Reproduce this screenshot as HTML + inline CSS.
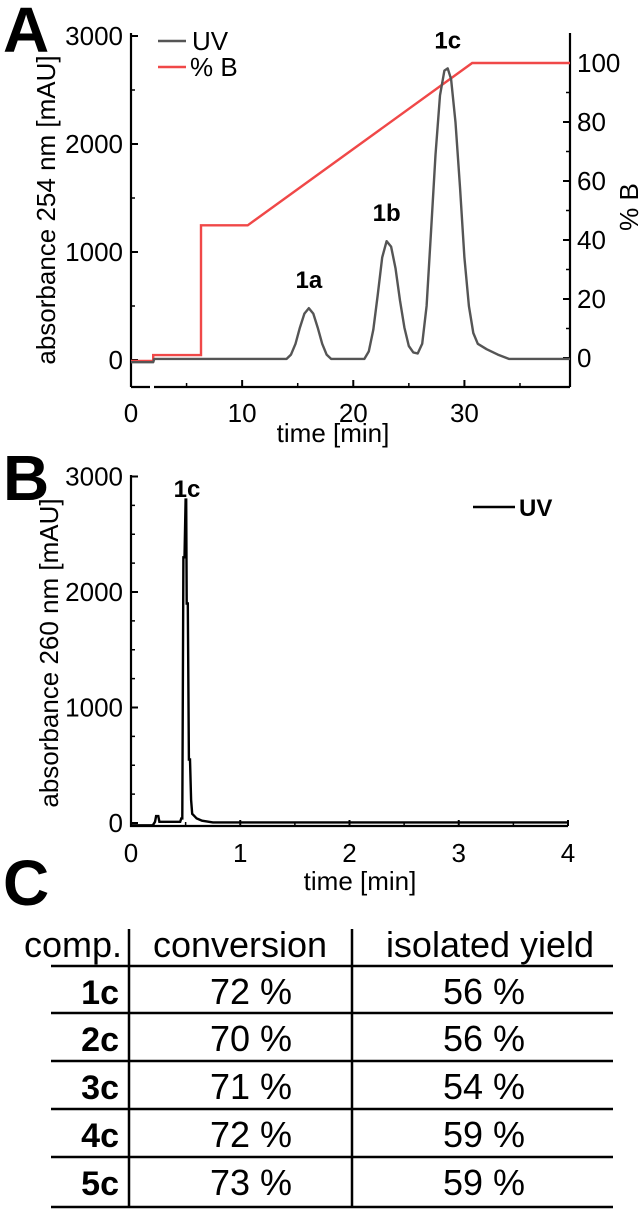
<!DOCTYPE html>
<html><head><meta charset="utf-8"><style>
body{margin:0;background:#fff;}
svg{display:block;font-family:"Liberation Sans",Arial,sans-serif;}
</style></head><body>
<svg id="fig" width="641" height="1212" viewBox="0 0 641 1212">
<g id="gA"></g>
<g id="gB"></g>
<g id="gC"></g>
</svg>
<script>
// Panel A data
const aUvTimes=[0,2,2.1,14,14.4,14.8,15.2,15.6,16,16.4,16.8,17.2,17.6,18,21,21.4,21.8,22.2,22.6,23,23.4,23.8,24.2,24.6,25,25.4,25.8,26.2,26.6,27,27.4,27.8,28.2,28.5,28.8,29.2,29.6,30,30.4,30.8,31.2,32,33,34,39.5];
const aUvValues=[-20,-20,10,10,50,150,300,430,480,430,300,150,50,10,10,80,280,600,950,1100,1050,850,550,300,130,70,60,150,500,1200,1900,2450,2680,2700,2600,2200,1600,950,500,250,150,100,50,10,10];
const aBTimes=[0,2,2,6.3,6.3,10.5,30.7,39.5];
const aBValues=[-1,-1,1,1,45,45,100,100];
const aXTicks=[0,10,20,30];
const aYTicks=[0,1000,2000,3000];
const aY2Ticks=[0,20,40,60,80,100];
const aPeakLabels=["1a","1b","1c"];
const aPeakTimes=[16,23,28.5];
const aPeakValues=[480,1100,2700];
// Panel B data
const bTimes=[0,0.2,0.22,0.23,0.25,0.26,0.45,0.46,0.47,0.48,0.49,0.5,0.505,0.51,0.52,0.53,0.54,0.55,0.56,0.58,0.6,0.65,0.75,4];
const bValues=[-20,-20,10,60,60,10,10,40,40,2300,2300,2800,2800,1900,1900,550,550,200,80,60,40,20,5,5];
const bXTicks=[0,1,2,3,4];
const bYTicks=[0,1000,2000,3000];
// Panel C data
const cRows=["1c","2c","3c","4c","5c"];
const cConversion=["72 %","70 %","71 %","72 %","73 %"];
const cYield=["56 %","56 %","54 %","59 %","59 %"];

const NS="http://www.w3.org/2000/svg";
function mk(parent,tag,attrs,text){const e=document.createElementNS(NS,tag);for(const k in attrs)e.setAttribute(k,attrs[k]);if(text!==undefined)e.textContent=text;parent.appendChild(e);return e;}

// ---------- Panel A ----------
const gA=document.getElementById('gA');
const axA=t=>131+t*(570-131)/39.5;
const ayA=v=>360-v*0.108;
const ay2A=v=>358-v*2.95;
let t;
t=mk(gA,'text',{x:3,y:52,'font-size':64,'font-weight':'bold'},'A');


let ax=mk(gA,'path',{d:`M131,${ayA(3000)-3}V387M131,387H150M154,387H570M570,387V33`,stroke:'#000','stroke-width':2.2,fill:'none'});


aXTicks.forEach(v=>{
 const x=axA(v);
 mk(gA,'line',{x1:x,y1:387,x2:x,y2:380,stroke:'#000','stroke-width':2});
 const l=mk(gA,'text',{x:x,y:422,'font-size':26,'text-anchor':'middle'},v);
 
 
});
[5,15,25,35].forEach(v=>mk(gA,'line',{x1:axA(v),y1:387,x2:axA(v),y2:383,stroke:'#000','stroke-width':1.5}));
aYTicks.forEach(v=>{
 const y=ayA(v);
 mk(gA,'line',{x1:131,y1:y,x2:138,y2:y,stroke:'#000','stroke-width':2});
 const l=mk(gA,'text',{x:123,y:y+9,'font-size':26,'text-anchor':'end'},v);
 
 
});
[500,1500,2500].forEach(v=>mk(gA,'line',{x1:131,y1:ayA(v),x2:135,y2:ayA(v),stroke:'#000','stroke-width':1.5}));
aY2Ticks.forEach(v=>{
 const y=ay2A(v);
 mk(gA,'line',{x1:570,y1:y,x2:563,y2:y,stroke:'#000','stroke-width':2});
 const l=mk(gA,'text',{x:577,y:y+9,'font-size':26},v);
 
 
});
[10,30,50,70,90].forEach(v=>mk(gA,'line',{x1:570,y1:ay2A(v),x2:566,y2:ay2A(v),stroke:'#000','stroke-width':1.5}));
t=mk(gA,'text',{x:333,y:442,'font-size':26,'text-anchor':'middle'},'time [min]');


t=mk(gA,'text',{x:0,y:0,'font-size':26,'text-anchor':'middle',transform:'translate(55,210) rotate(-90)'},'absorbance 254 nm [mAU]');


t=mk(gA,'text',{x:0,y:0,'font-size':26,'text-anchor':'middle',transform:'translate(638,207) rotate(-90)'},'% B');


let d='';aBTimes.forEach((tt,i)=>{d+=(i?'L':'M')+axA(tt).toFixed(1)+','+ay2A(aBValues[i]).toFixed(1);});
let p=mk(gA,'path',{d:d,stroke:'#f04848','stroke-width':2.4,fill:'none'});


d='';aUvTimes.forEach((tt,i)=>{d+=(i?'L':'M')+axA(tt).toFixed(1)+','+ayA(aUvValues[i]).toFixed(1);});
p=mk(gA,'path',{d:d,stroke:'#555','stroke-width':2.4,fill:'none','stroke-linejoin':'round'});


aPeakLabels.forEach((s,i)=>{
 const l=mk(gA,'text',{x:axA(aPeakTimes[i]),y:ayA(aPeakValues[i])-20,'font-size':24,'font-weight':'bold','text-anchor':'middle'},s);
 
 
});
mk(gA,'line',{x1:158,y1:41,x2:186,y2:41,stroke:'#555','stroke-width':2.5});
t=mk(gA,'text',{x:192,y:50,'font-size':26},'UV');


mk(gA,'line',{x1:158,y1:67,x2:186,y2:67,stroke:'#f04848','stroke-width':2.5});
t=mk(gA,'text',{x:190,y:76,'font-size':26},'% B');



// ---------- Panel B ----------
const gB=document.getElementById('gB');
const axB=v=>131+v*(568-131)/4;
const ayB=v=>823-v*0.1155;
t=mk(gB,'text',{x:3,y:500,'font-size':64,'font-weight':'bold'},'B');


ax=mk(gB,'path',{d:`M131,475V826H568`,stroke:'#000','stroke-width':2.2,fill:'none'});


bXTicks.forEach(v=>{
 const x=axB(v);
 mk(gB,'line',{x1:x,y1:826,x2:x,y2:820,stroke:'#000','stroke-width':2});
 const l=mk(gB,'text',{x:x,y:862,'font-size':26,'text-anchor':'middle'},v);
 
 
});
[0.5,1.5,2.5,3.5].forEach(v=>mk(gB,'line',{x1:axB(v),y1:826,x2:axB(v),y2:822,stroke:'#000','stroke-width':1.5}));
bYTicks.forEach(v=>{
 const y=ayB(v);
 mk(gB,'line',{x1:131,y1:y,x2:138,y2:y,stroke:'#000','stroke-width':2});
 const l=mk(gB,'text',{x:123,y:y+9,'font-size':26,'text-anchor':'end'},v);
 
 
});
[250,500,750,1250,1500,1750,2250,2500,2750].forEach(v=>mk(gB,'line',{x1:131,y1:ayB(v),x2:135,y2:ayB(v),stroke:'#000','stroke-width':1.5}));
t=mk(gB,'text',{x:360,y:890,'font-size':26,'text-anchor':'middle'},'time [min]');


t=mk(gB,'text',{x:0,y:0,'font-size':26,'text-anchor':'middle',transform:'translate(58,653) rotate(-90)'},'absorbance 260 nm [mAU]');


d='';bTimes.forEach((tt,i)=>{d+=(i?'L':'M')+axB(tt).toFixed(1)+','+ayB(bValues[i]).toFixed(1);});
p=mk(gB,'path',{d:d,stroke:'#000','stroke-width':2.4,fill:'none'});


t=mk(gB,'text',{x:187,y:497,'font-size':24,'font-weight':'bold','text-anchor':'middle'},'1c');


mk(gB,'line',{x1:473,y1:507,x2:515,y2:507,stroke:'#000','stroke-width':2.5});
t=mk(gB,'text',{x:519,y:516,'font-size':24,'font-weight':'bold'},'UV');



// ---------- Panel C ----------
const gC=document.getElementById('gC');
t=mk(gC,'text',{x:3,y:905,'font-size':64,'font-weight':'bold'},'C');


[['comp.',73],['conversion',240],['isolated yield',490]].forEach(h=>{
 const l=mk(gC,'text',{x:h[1],y:957,'font-size':36,'text-anchor':'middle'},h[0]);
 
 
});
const lineYs=[966,1013,1061,1109,1157,1207];
lineYs.forEach(y=>mk(gC,'line',{x1:51,y1:y,x2:613,y2:y,stroke:'#000','stroke-width':2.5}));
mk(gC,'line',{x1:129,y1:929,x2:129,y2:1207,stroke:'#000','stroke-width':2.5});
mk(gC,'line',{x1:352,y1:929,x2:352,y2:1207,stroke:'#000','stroke-width':2.5});
cRows.forEach((r,i)=>{
 const y=lineYs[i]+38;
 let l=mk(gC,'text',{x:119,y:y,'font-size':34,'font-weight':'bold','text-anchor':'end'},r);
 
 
 l=mk(gC,'text',{x:251,y:y,'font-size':36,'text-anchor':'middle'},cConversion[i]);
 
 
 l=mk(gC,'text',{x:484,y:y,'font-size':36,'text-anchor':'middle'},cYield[i]);
 
 
});
</script>
</body></html>
